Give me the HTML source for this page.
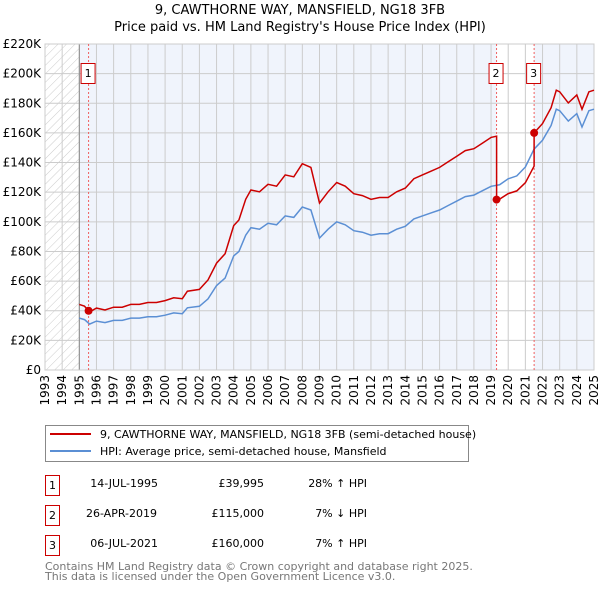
<!DOCTYPE html>
<html><head><meta charset="utf-8"><style>
body{margin:0;background:#fff;font-family:"DejaVu Sans","Liberation Sans",sans-serif;}
svg text{font-family:"DejaVu Sans","Liberation Sans",sans-serif;}
</style></head><body>
<svg id="c" width="600" height="590" xmlns="http://www.w3.org/2000/svg">
<defs><pattern id="hatch" width="6" height="6" patternUnits="userSpaceOnUse" patternTransform="rotate(45)"><line x1="0" y1="0" x2="0" y2="6" stroke="#ccc" stroke-width="1"/></pattern></defs>
<text x="300" y="14" text-anchor="middle" font-size="13">9, CAWTHORNE WAY, MANSFIELD, NG18 3FB</text>
<text x="300" y="31" text-anchor="middle" font-size="13">Price paid vs. HM Land Registry's House Price Index (HPI)</text>
<g id="plot"></g>
<g>
<rect x="45.5" y="425.5" width="423" height="36" fill="#fff" stroke="#888"/>
<line x1="50" y1="434" x2="91" y2="434" stroke="#cc0000" stroke-width="2"/>
<text x="100" y="438" font-size="11">9, CAWTHORNE WAY, MANSFIELD, NG18 3FB (semi-detached house)</text>
<line x1="50" y1="451" x2="91" y2="451" stroke="#5b8fd4" stroke-width="2"/>
<text x="100" y="455" font-size="11">HPI: Average price, semi-detached house, Mansfield</text>
</g>
<g font-size="11">
<rect x="45.5" y="475.5" width="14" height="20" fill="#fff" stroke="#cc0000"/><text x="52.5" y="489" text-anchor="middle">1</text>
<text x="158" y="487" text-anchor="end">14-JUL-1995</text><text x="264" y="487" text-anchor="end">£39,995</text><text x="367" y="487" text-anchor="end">28% ↑ HPI</text>
<rect x="45.5" y="505.5" width="14" height="20" fill="#fff" stroke="#cc0000"/><text x="52.5" y="519" text-anchor="middle">2</text>
<text x="157" y="517" text-anchor="end">26-APR-2019</text><text x="264" y="517" text-anchor="end">£115,000</text><text x="367" y="517" text-anchor="end">7% ↓ HPI</text>
<rect x="45.5" y="535.5" width="14" height="20" fill="#fff" stroke="#cc0000"/><text x="52.5" y="549" text-anchor="middle">3</text>
<text x="158" y="547" text-anchor="end">06-JUL-2021</text><text x="264" y="547" text-anchor="end">£160,000</text><text x="367" y="547" text-anchor="end">7% ↑ HPI</text>
</g>
<text x="45" y="570" font-size="11" fill="#777">Contains HM Land Registry data © Crown copyright and database right 2025.</text>
<text x="45" y="580" font-size="11" fill="#777">This data is licensed under the Open Government Licence v3.0.</text>
</svg>
<script>
const hpiYears=[1995,1995.3,1995.6,1996,1996.5,1997,1997.5,1998,1998.5,1999,1999.5,2000,2000.5,2001,2001.3,2002,2002.5,2003,2003.5,2004,2004.3,2004.7,2005,2005.5,2006,2006.5,2007,2007.5,2008,2008.5,2009,2009.5,2010,2010.5,2011,2011.5,2012,2012.5,2013,2013.5,2014,2014.5,2015,2015.5,2016,2016.5,2017,2017.5,2018,2018.5,2019,2019.5,2020,2020.5,2021,2021.5,2022,2022.5,2022.8,2023,2023.5,2024,2024.3,2024.7,2025];
const hpiValues=[35,34,31,33,32,33.5,33.5,35,35,36,36,37,38.5,38,42,43,48,57,62,77,80,91,96,95,99,98,104,103,110,108,89,95,100,98,94,93,91,92,92,95,97,102,104,106,108,111,114,117,118,121,124,125,129,131,137,149,155,165,176,175,168,173,164,175,176];
const saleYears=[1995.54,2019.32,2021.51];
const salePrices=[39.995,115,160];
const saleLabels=["1","2","3"];
const yTicks=[0,20,40,60,80,100,120,140,160,180,200,220];
const xTicks=[1993,1994,1995,1996,1997,1998,1999,2000,2001,2002,2003,2004,2005,2006,2007,2008,2009,2010,2011,2012,2013,2014,2015,2016,2017,2018,2019,2020,2021,2022,2023,2024,2025];
const X0=45,X1=594,Y0=370,Y1=44;
const xs=t=>X0+(t-1993)/(2025-1993)*(X1-X0);
const ys=v=>Y0-v/220*(Y0-Y1);
const NS="http://www.w3.org/2000/svg";
const g=document.getElementById('plot');
function mk(tag,a,parent){const e=document.createElementNS(NS,tag);for(const k in a)e.setAttribute(k,a[k]);(parent||g).appendChild(e);return e;}
function hpiAt(t){for(let i=1;i<hpiYears.length;i++){if(t<=hpiYears[i]){const f=(t-hpiYears[i-1])/(hpiYears[i]-hpiYears[i-1]);return hpiValues[i-1]+f*(hpiValues[i]-hpiValues[i-1]);}}return hpiValues[hpiValues.length-1];}
// backgrounds
let e=mk('rect',{x:xs(1995),y:Y1,width:xs(2025)-xs(1995),height:Y0-Y1,fill:'#f0f4fc'});

e=mk('rect',{x:xs(saleYears[1]),y:Y1,width:xs(saleYears[2])-xs(saleYears[1]),height:Y0-Y1,fill:'#fff'});

e=mk('rect',{x:X0,y:Y1,width:xs(1995)-X0,height:Y0-Y1,fill:'url(#hatch)'});

// grid
yTicks.forEach(v=>{const l=mk('line',{x1:X0,x2:X1,y1:ys(v),y2:ys(v),stroke:'#ccc','stroke-width':1});

const t=mk('text',{x:X0-4,y:ys(v)+4,'text-anchor':'end','font-size':12});t.textContent=v===0?'£0':'£'+v+'K';
});
xTicks.forEach(v=>{const l=mk('line',{x1:xs(v),x2:xs(v),y1:Y1,y2:Y0,stroke:'#ccc','stroke-width':1});

const t=mk('text',{x:0,y:0,'font-size':12,'text-anchor':'end',transform:`translate(${xs(v)+4},${Y0+5}) rotate(-90)`});t.textContent=v;
});
e=mk('line',{x1:xs(1995),x2:xs(1995),y1:Y1,y2:Y0,stroke:'#888'});

e=mk('rect',{x:X0,y:Y1,width:X1-X0,height:Y0-Y1,fill:'none',stroke:'#ccc'});

// sale vlines
saleYears.forEach((s,i)=>{const l=mk('line',{x1:xs(s),x2:xs(s),y1:Y1,y2:Y0,stroke:'#f06060','stroke-dasharray':'2,2'});

const r=mk('rect',{x:xs(s)-7.5,y:63.5,width:14,height:20,fill:'#fff',stroke:'#cc0000'});

const t=mk('text',{x:xs(s)-0.5,y:77,'text-anchor':'middle','font-size':11});t.textContent=saleLabels[i];
});
// hpi line
let d=hpiYears.map((t,i)=>(i?'L':'M')+xs(t).toFixed(1)+','+ys(hpiValues[i]).toFixed(1)).join('');
e=mk('path',{d:d,fill:'none',stroke:'#5b8fd4','stroke-width':1.5});

// property line: HPI scaled from each sale
const ratios=saleYears.map((s,i)=>salePrices[i]/hpiAt(s));
let pts=[];
const times=[...hpiYears,...saleYears].sort((a,b)=>a-b);
times.forEach(t=>{
  let k=0;for(let i=0;i<saleYears.length;i++)if(t>=saleYears[i])k=i;
  if(saleYears.includes(t)&&saleYears.indexOf(t)>0){const j=saleYears.indexOf(t);pts.push([t,hpiAt(t)*ratios[j-1]]);}
  pts.push([t,hpiAt(t)*ratios[k]]);
});
d=pts.map((p,i)=>(i?'L':'M')+xs(p[0]).toFixed(1)+','+ys(p[1]).toFixed(1)).join('');
e=mk('path',{d:d,fill:'none',stroke:'#cc0000','stroke-width':1.5});

saleYears.forEach((s,i)=>{const c=mk('circle',{cx:xs(s),cy:ys(salePrices[i]),r:4,fill:'#cc0000'});
});
</script>
</body></html>
